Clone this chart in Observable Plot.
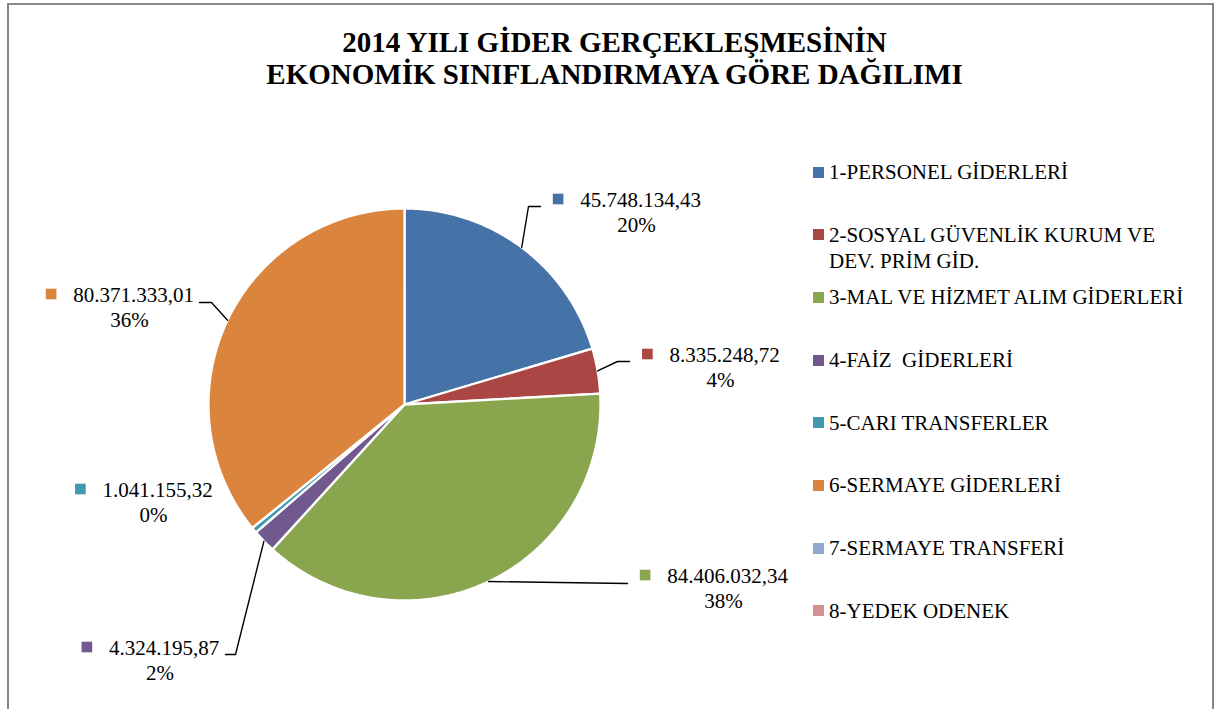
<!DOCTYPE html>
<html><head><meta charset="utf-8">
<script src="https://cdn.jsdelivr.net/npm/d3@7"></script>
<script src="https://cdn.jsdelivr.net/npm/@observablehq/plot@0.6"></script>
<style>
body{margin:0;background:#fff;}
#frame{position:absolute;left:7px;top:3px;width:1207px;height:740px;border:2px solid #878787;box-sizing:border-box;font-family:"Liberation Serif","Times New Roman",serif;background:#fff;}
#title{padding-top:21px;padding-left:8px;height:79px;text-align:center;font-weight:bold;font-size:29px;line-height:32px;color:#000;}
#chart{position:absolute;left:0;top:100px;}
.leg{position:absolute;font-size:21px;line-height:26px;color:#000;white-space:pre-wrap;width:370px;}
.sw{position:absolute;width:11px;height:11px;}
</style></head><body>
<div id="frame">
  <div id="title">2014 YILI GİDER GERÇEKLEŞMESİNİN<br>EKONOMİK SINIFLANDIRMAYA GÖRE DAĞILIMI</div>
  <div id="chart"></div>
  <div id="legend"></div>
</div>
<script>
// ---- data ----
const categories = [
  "1-PERSONEL GİDERLERİ",
  "2-SOSYAL GÜVENLİK KURUM VE DEV. PRİM GİD.",
  "3-MAL VE HİZMET ALIM GİDERLERİ",
  "4-FAİZ  GİDERLERİ",
  "5-CARI TRANSFERLER",
  "6-SERMAYE GİDERLERİ",
  "7-SERMAYE TRANSFERİ",
  "8-YEDEK ODENEK"
];
const values = [45748134.43, 8335248.72, 84406032.34, 4324195.87, 1041155.32, 80371333.01, 0, 0];
const colors = ["#4572A7", "#AA4643", "#89A54E", "#71588F", "#4198AF", "#DB843D", "#93A9CF", "#D19392"];

// ---- label layout (pixel offsets from pie centre, y downward) ----
const labelOffsets = [[236,-204],[320,-49],[323,172],[-240.5,244],[-247,86],[-271,-109],null,null];
const leaderBends = [
  [[124,-198],[136,-198]],
  [[213,-43],[225,-43]],
  [[223,179]],
  [[-169,250],[-179,250]],
  [],
  [[-193,-102],[-205,-102]],
  [], []
];

const R = 196, CX = 395, CY = 299;
const FONT = '"Liberation Serif","Times New Roman",serif';

function fmt(v){
  const [i,d] = v.toFixed(2).split(".");
  return i.replace(/\B(?=(\d{3})+(?!\d))/g, ".") + "," + d;
}
const total = d3.sum(values);
const arcs = d3.pie().sort(null).value(d => d)(values);

// slice polygons
const slicePts = [];
arcs.forEach((a, i) => {
  if (values[i] <= 0) return;
  const cat = categories[i];
  slicePts.push({cat, x: 0, y: 0});
  const n = Math.max(2, Math.ceil((a.endAngle - a.startAngle) / (Math.PI/360)));
  for (let k = 0; k <= n; k++) {
    const t = a.startAngle + (a.endAngle - a.startAngle) * k / n;
    slicePts.push({cat, x: Math.sin(t), y: Math.cos(t)});
  }
  slicePts.push({cat, x: 0, y: 0});
});

// leader lines
const leaderPts = [];
arcs.forEach((a, i) => {
  if (values[i] <= 0 || !leaderBends[i].length) return;
  const m = (a.startAngle + a.endAngle) / 2;
  const cat = categories[i];
  leaderPts.push({cat, x: Math.sin(m), y: Math.cos(m)});
  leaderBends[i].forEach(([px, py]) => leaderPts.push({cat, x: px / R, y: -py / R}));
});

// labels
const ctx = document.createElement("canvas").getContext("2d");
ctx.font = "21px " + FONT;
const labelRows = [];
values.forEach((v, i) => {
  if (v <= 0 || !labelOffsets[i]) return;
  const [px, py] = labelOffsets[i];
  const num = fmt(v);
  const w = ctx.measureText(num).width;
  labelRows.push({
    cat: categories[i],
    num,
    pct: Math.round(v / total * 100) + "%",
    lx: px / R, ly: -py / R,
    mx: (px - w / 2 - 22) / R, my: -(py - 1.5) / R
  });
});

const chart = Plot.plot({
  width: 800, height: 615, margin: 0,
  x: {domain: [-1, 1], range: [CX - R, CX + R], axis: null},
  y: {domain: [-1, 1], range: [CY + R, CY - R], axis: null},
  color: {domain: categories, range: colors},
  style: {fontFamily: FONT, background: "transparent", overflow: "visible"},
  marks: [
    Plot.line(slicePts, {x: "x", y: "y", z: "cat", fill: "cat", stroke: "white", strokeWidth: 2.3, strokeLinejoin: "round", curve: "linear"}),
    Plot.line(leaderPts, {x: "x", y: "y", z: "cat", stroke: "black", strokeWidth: 1.4, curve: "linear"}),
    Plot.dot(labelRows, {x: "mx", y: "my", symbol: "square", r: 6, fill: "cat"}),
    Plot.text(labelRows, {x: "lx", y: "ly", text: "num", fontSize: 21, fill: "black"}),
    Plot.text(labelRows, {x: "lx", y: "ly", text: "pct", fontSize: 21, fill: "black", dy: 24.5, dx: -4})
  ]
});
document.getElementById("chart").appendChild(chart);

// legend
const leg = document.getElementById("legend");
categories.forEach((c, i) => {
  const cy = 172 + 62.7 * i - 5; // centre in frame coords
  const sw = document.createElement("div");
  sw.className = "sw";
  sw.style.left = "804px";
  sw.style.top = (cy - 5.5) + "px";
  sw.style.background = colors[i];
  leg.appendChild(sw);
  const t = document.createElement("div");
  t.className = "leg";
  t.style.left = "820px";
  t.style.top = (cy - 13.1) + "px";
  t.textContent = c;
  leg.appendChild(t);
});
</script>
</body></html>
